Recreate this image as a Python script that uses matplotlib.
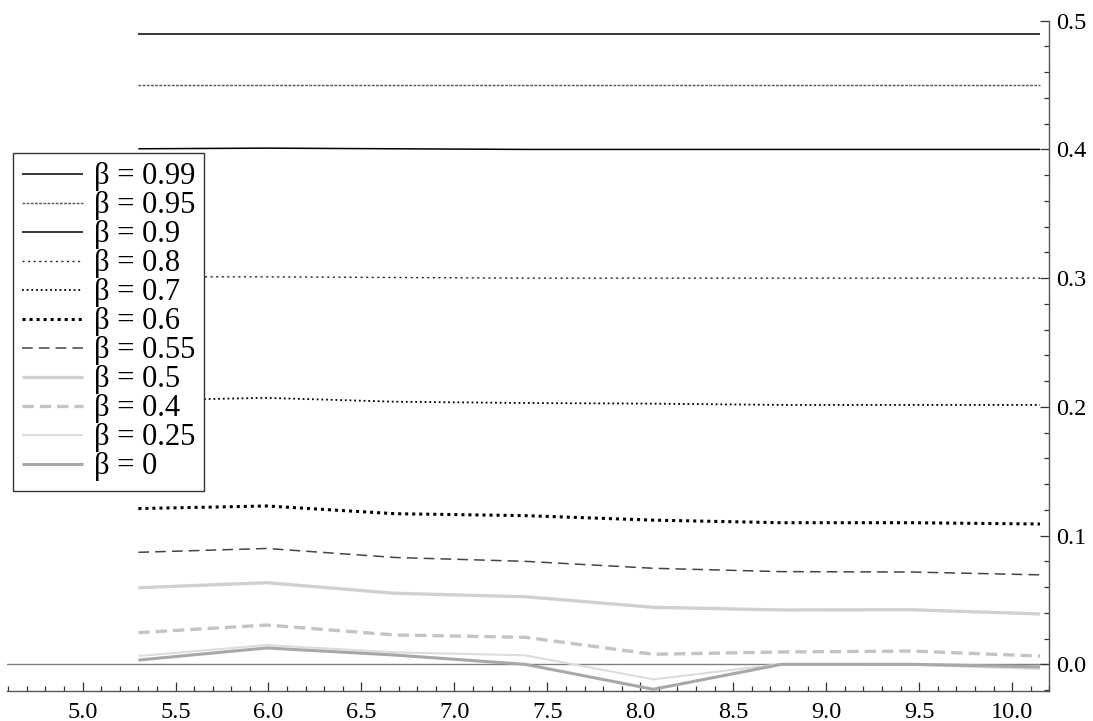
import matplotlib
matplotlib.use("Agg")
import matplotlib.pyplot as plt
from matplotlib.ticker import MultipleLocator, FormatStrFormatter

plt.rcParams['font.family'] = ['Liberation Serif', 'DejaVu Serif']

x = [5.30, 5.99, 6.68, 7.38, 8.07, 8.76, 9.46, 10.15]

labels = ["β = 0.99", "β = 0.95", "β = 0.9", "β = 0.8", "β = 0.7", "β = 0.6",
          "β = 0.55", "β = 0.5", "β = 0.4", "β = 0.25", "β = 0"]

b099 = [0.490, 0.490, 0.490, 0.490, 0.490, 0.490, 0.490, 0.490]
b095 = [0.450, 0.450, 0.450, 0.450, 0.450, 0.450, 0.450, 0.450]
b090 = [0.4005, 0.401, 0.4005, 0.400, 0.400, 0.400, 0.400, 0.400]
b080 = [0.301, 0.301, 0.3005, 0.300, 0.300, 0.300, 0.300, 0.300]
b070 = [0.205, 0.207, 0.204, 0.203, 0.2025, 0.2015, 0.2015, 0.2015]
b060 = [0.121, 0.123, 0.117, 0.1155, 0.112, 0.110, 0.110, 0.109]
b055 = [0.087, 0.090, 0.083, 0.080, 0.0746, 0.072, 0.0717, 0.0695]
b050 = [0.0595, 0.0634, 0.0552, 0.0525, 0.0443, 0.0422, 0.0424, 0.0391]
b040 = [0.0246, 0.0305, 0.0228, 0.0210, 0.0078, 0.0096, 0.0103, 0.0064]
b025 = [0.0064, 0.0150, 0.0093, 0.0070, -0.0117, 0.0003, -0.0003, -0.0037]
b000 = [0.0033, 0.0127, 0.0072, 0.0000, -0.0194, 0.0000, 0.0000, -0.0020]

series = [b099, b095, b090, b080, b070, b060, b055, b050, b040, b025, b000]

styles = [
    dict(color='black', lw=1.1, ls='-'),
    dict(color='#555555', lw=1.0, ls=(0, (2, 1))),
    dict(color='black', lw=1.1, ls='-'),
    dict(color='#222222', lw=1.0, ls=(0, (1.5, 2.5))),
    dict(color='black', lw=1.3, ls=(0, (1, 1.6))),
    dict(color='black', lw=2.2, ls=(0, (1, 1.3))),
    dict(color='#444444', lw=1.1, ls=(0, (7, 4))),
    dict(color='#d0d0d0', lw=2.4, ls='-'),
    dict(color='#c4c4c4', lw=2.4, ls=(0, (3.4, 1.8))),
    dict(color='#dcdcdc', lw=1.5, ls='-'),
    dict(color='#a8a8a8', lw=2.2, ls='-'),
]

W, H = 1093, 721
fig = plt.figure(figsize=(W / 100, H / 100), dpi=100)
ax = fig.add_axes([7.3 / W, 1 - 690.7 / H, (1049.3 - 7.3) / W, (690.7 - 20.7) / H])

for y, lab, st in zip(series, labels, styles):
    ax.plot(x, y, label=lab, solid_capstyle='butt', dash_capstyle='butt', **st)

ax.axhline(0, color='#808080', lw=1.0, zorder=0)

ax.set_xlim(4.595, 10.2)
ax.set_ylim(-0.0205, 0.5)

for s in ['top', 'left']:
    ax.spines[s].set_visible(False)
for s in ['right', 'bottom']:
    ax.spines[s].set_color('#555555')
    ax.spines[s].set_linewidth(1.0)

ax.yaxis.tick_right()
ax.xaxis.set_major_locator(MultipleLocator(0.5))
ax.xaxis.set_minor_locator(MultipleLocator(0.1))
ax.yaxis.set_major_locator(MultipleLocator(0.1))
ax.yaxis.set_minor_locator(MultipleLocator(0.02))
ax.xaxis.set_major_formatter(FormatStrFormatter('%.1f'))
ax.yaxis.set_major_formatter(FormatStrFormatter('%.1f'))
ax.tick_params(which='both', direction='in', color='#333333', width=0.9, labelsize=17.5, labelcolor='black')
ax.tick_params(which='major', length=6.5)
ax.tick_params(which='minor', length=3.6)
ax.tick_params(axis='x', pad=8)
ax.tick_params(axis='y', pad=5)

leg = ax.legend(loc='upper left', bbox_to_anchor=(12.7 / W, 1 - 153.3 / H),
                bbox_transform=fig.transFigure, borderaxespad=0,
                fontsize=22, handlelength=2.0, handletextpad=0.35,
                labelspacing=0.0, borderpad=0.3, fancybox=False, framealpha=1,
                edgecolor='#333333')
leg.get_frame().set_linewidth(1.0)

fig.savefig('out.png', dpi=100)
